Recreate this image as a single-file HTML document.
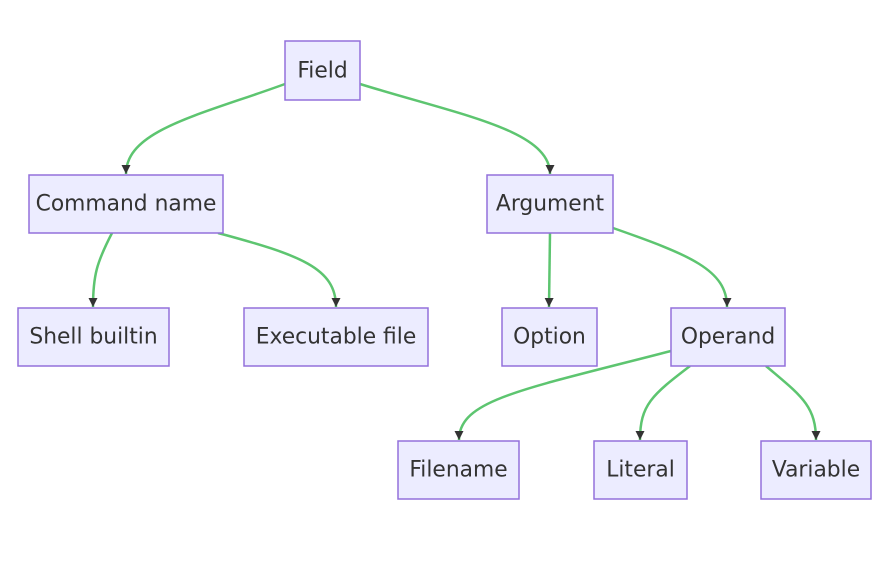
<!DOCTYPE html>
<html><head><style>
body{margin:0;background:#fff;}
svg{display:block;}
text{font-family:"DejaVu Sans","Liberation Sans",sans-serif;font-size:21.8px;fill:#333;text-anchor:middle;dominant-baseline:central;}
rect{fill:#ECECFF;stroke:#9370DB;stroke-width:1.5;}
path.e{fill:none;stroke:#5dc570;stroke-width:2.5;}
</style></head><body>
<svg width="890" height="572" viewBox="0 0 890 572">
<defs><marker id="a" viewBox="0 0 10 10" refX="10" refY="5" markerWidth="9" markerHeight="9" markerUnits="userSpaceOnUse" orient="auto"><path d="M0,0L10,5L0,10z" fill="#333"/></marker></defs>
<path class="e" d="M285,84 C200,115 126,130 126,174" marker-end="url(#a)"/>
<path class="e" d="M360,84 C460,115 550,130 550,174" marker-end="url(#a)"/>
<path class="e" d="M112,233 C97,262 93,275 93,307" marker-end="url(#a)"/>
<path class="e" d="M218,233 C300,255 336,268 336,307" marker-end="url(#a)"/>
<path class="e" d="M550,233 L549,307" marker-end="url(#a)"/>
<path class="e" d="M613,228 C690,255 727,270 727,307" marker-end="url(#a)"/>
<path class="e" d="M671,351 C520,390 459,400 459,440" marker-end="url(#a)"/>
<path class="e" d="M690,366 C652,395 640,405 640,440" marker-end="url(#a)"/>
<path class="e" d="M766,366 C800,395 816,405 816,440" marker-end="url(#a)"/>
<rect x="285" y="41" width="75" height="59"/><text x="322.5" y="71">Field</text>
<rect x="29" y="175" width="194" height="58"/><text x="126" y="204">Command name</text>
<rect x="487" y="175" width="126" height="58"/><text x="550" y="204">Argument</text>
<rect x="18" y="308" width="151" height="58"/><text x="93.5" y="337">Shell builtin</text>
<rect x="244" y="308" width="184" height="58"/><text x="336" y="337">Executable file</text>
<rect x="502" y="308" width="95" height="58"/><text x="549.5" y="337">Option</text>
<rect x="671" y="308" width="114" height="58"/><text x="728" y="337">Operand</text>
<rect x="398" y="441" width="121" height="58"/><text x="458.5" y="470">Filename</text>
<rect x="594" y="441" width="93" height="58"/><text x="640.5" y="470">Literal</text>
<rect x="761" y="441" width="110" height="58"/><text x="816" y="470">Variable</text>
</svg>
</body></html>
